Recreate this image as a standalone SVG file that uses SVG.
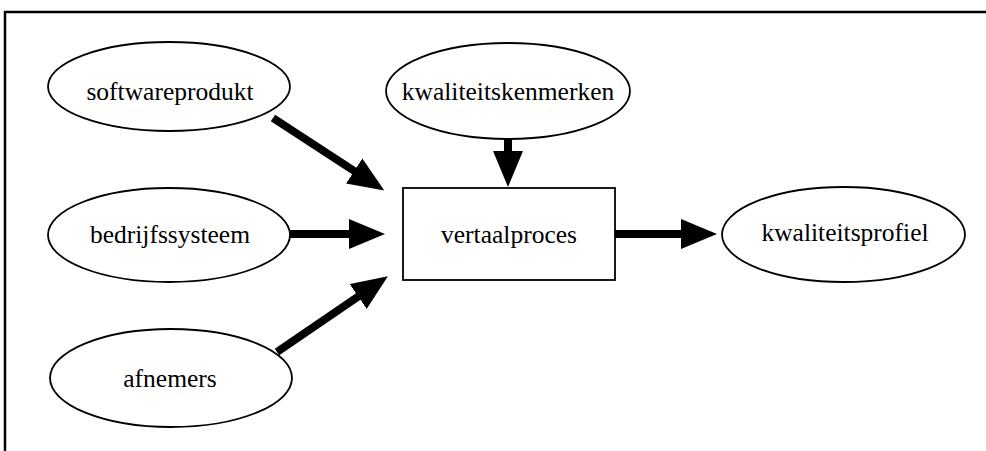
<svg xmlns="http://www.w3.org/2000/svg" width="986" height="451" viewBox="0 0 986 451">
<style>
.node{fill:#fff;stroke:#000;stroke-width:1.8}
.lbl{font-family:"Liberation Serif","Times New Roman",serif;font-size:25.5px;fill:#000;text-anchor:middle}
.conn{stroke:#000;stroke-width:8;fill:none}
.frame{stroke:#000;stroke-width:2.5;fill:none}
</style>
<defs>
<marker id="ah" markerUnits="userSpaceOnUse" markerWidth="36" markerHeight="30" refX="1" refY="15" orient="auto" viewBox="0 0 36 30">
<path d="M0,0 L36,15 L0,30 z" fill="#000"/>
</marker>
</defs>
<rect width="986" height="451" fill="#fff"/>
<g id="frame">
<path class="frame" d="M5,451 L5,12 L986,12"/>
</g>
<g id="connectors">
<line class="conn" x1="273" y1="118" x2="355" y2="171.5" marker-end="url(#ah)"/>
<line class="conn" x1="290" y1="234" x2="350" y2="234" marker-end="url(#ah)"/>
<line class="conn" x1="277" y1="352" x2="359" y2="296" marker-end="url(#ah)"/>
<line class="conn" x1="508" y1="139" x2="508" y2="152" marker-end="url(#ah)"/>
<line class="conn" x1="615" y1="234" x2="682" y2="234" marker-end="url(#ah)"/>
</g>
<g id="softwareprodukt">
<ellipse class="node" cx="169" cy="86.5" rx="121" ry="44.5"/>
<text class="lbl" x="170" y="100">softwareprodukt</text>
</g>
<g id="bedrijfssysteem">
<ellipse class="node" cx="169" cy="235" rx="121" ry="47"/>
<text class="lbl" x="170" y="243">bedrijfssysteem</text>
</g>
<g id="afnemers">
<ellipse class="node" cx="171" cy="378" rx="121" ry="49"/>
<text class="lbl" x="170" y="387">afnemers</text>
</g>
<g id="kwaliteitskenmerken">
<ellipse class="node" cx="508" cy="91" rx="122" ry="48"/>
<text class="lbl" x="508" y="100">kwaliteitskenmerken</text>
</g>
<g id="vertaalproces">
<rect class="node" x="403" y="188" width="212" height="92"/>
<text class="lbl" x="509" y="243">vertaalproces</text>
</g>
<g id="kwaliteitsprofiel">
<ellipse class="node" cx="843.5" cy="234.5" rx="121.5" ry="47.5"/>
<text class="lbl" x="845" y="241">kwaliteitsprofiel</text>
</g>
</svg>
